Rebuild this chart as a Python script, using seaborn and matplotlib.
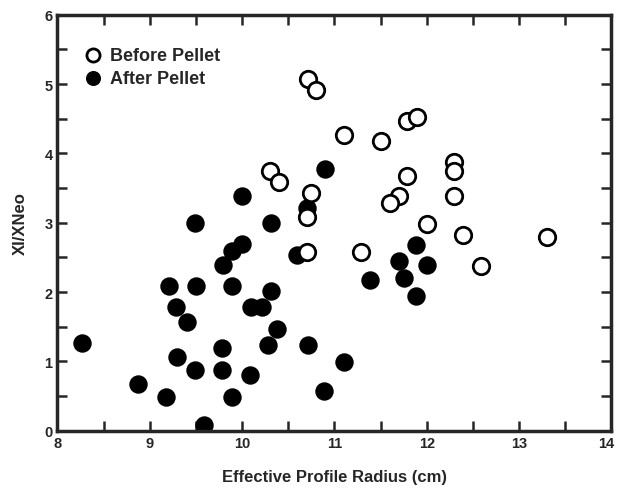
#!/usr/bin/env python3

import pandas as pd
import matplotlib
matplotlib.use('Agg')
import matplotlib.pyplot as plt
import matplotlib.transforms as mtransforms
from matplotlib.ticker import MultipleLocator
import seaborn as sns

# before pellet (open circles)
before_x = [10.71, 10.80, 11.10, 11.50, 11.79, 11.89, 10.30, 10.40, 10.75, 10.70,
            12.29, 12.29, 12.29, 11.79, 11.70, 11.60, 12.00, 12.39, 13.30, 12.59,
            11.29, 10.70]
before_y = [5.07, 4.92, 4.26, 4.18, 4.46, 4.53, 3.74, 3.58, 3.43, 3.08,
            3.88, 3.74, 3.38, 3.67, 3.38, 3.28, 2.98, 2.83, 2.79, 2.38,
            2.58, 2.58]

# after pellet (filled circles)
after_x = [8.27, 8.87, 9.18, 9.21, 9.28, 9.29, 9.40, 9.49, 9.50, 9.49,
           9.59, 9.79, 9.89, 10.00, 9.89, 9.78, 9.78, 9.89, 10.09, 10.10,
           10.22, 10.31, 10.38, 10.28, 10.00, 10.31, 10.59, 10.70, 10.90, 10.71,
           11.10, 10.89, 11.38, 11.70, 11.75, 11.88, 12.00, 11.88]
after_y = [1.27, 0.67, 0.48, 2.09, 1.78, 1.07, 1.57, 2.99, 2.09, 0.87,
           0.08, 2.39, 2.59, 2.69, 2.09, 1.19, 0.87, 0.48, 0.80, 1.78,
           1.78, 2.02, 1.47, 1.24, 3.39, 2.99, 2.54, 3.21, 3.77, 1.24,
           0.99, 0.58, 2.18, 2.45, 2.20, 2.68, 2.39, 1.94]


def plot_pellet():
    before = pd.DataFrame({'r': before_x, 'ratio': before_y})
    after = pd.DataFrame({'r': after_x, 'ratio': after_y})

    sns.set_style('ticks')
    plt.rcParams['font.family'] = ['Liberation Sans', 'DejaVu Sans']
    plt.rcParams['font.weight'] = 'bold'

    fig = plt.figure(figsize=(6.17, 4.89), dpi=100)
    ax = fig.add_axes([0.093, 0.117, 0.898, 0.851])

    sns.scatterplot(x='r', y='ratio', data=before, ax=ax, s=140,
                    facecolor='white', edgecolor='black', linewidth=2,
                    label='Before Pellet', zorder=3)
    sns.scatterplot(x='r', y='ratio', data=after, ax=ax, s=150,
                    color='black', edgecolor='black', linewidth=1,
                    label='After Pellet', zorder=2)

    ax.set_xlim(8, 14)
    ax.set_ylim(0, 6)
    ax.xaxis.set_major_locator(MultipleLocator(1))
    ax.xaxis.set_minor_locator(MultipleLocator(0.5))
    ax.yaxis.set_major_locator(MultipleLocator(1))
    ax.yaxis.set_minor_locator(MultipleLocator(0.5))
    ax.tick_params(which='both', direction='in', top=True, right=True,
                   width=1.8, labelsize=10.5, length=7)
    for sp in ax.spines.values():
        sp.set_linewidth(2.5)

    ax.set_xlabel('Effective Profile Radius (cm)', fontsize=12,
                  fontweight='bold', labelpad=14)
    ax.set_ylabel('XI/XNeo', fontsize=12, fontweight='bold', labelpad=12)

    leg = ax.legend(loc='upper left', bbox_to_anchor=(0.048, 0.922),
                    frameon=False, fontsize=13, borderpad=0, borderaxespad=0,
                    handlelength=1.0, handletextpad=0.45, labelspacing=0.3,
                    markerscale=0.8)
    for t in leg.get_texts():
        t.set_fontweight('bold')

    # draw once so the tick labels exist, then nudge the "14" label inward
    fig.canvas.draw()
    shift = mtransforms.ScaledTranslation(-5 / 100, 0, fig.dpi_scale_trans)
    for lab in ax.get_xticklabels():
        if lab.get_text() == '14':
            lab.set_transform(lab.get_transform() + shift)

    fig.savefig('out.png', dpi=100)


if __name__ == '__main__':
    plot_pellet()
